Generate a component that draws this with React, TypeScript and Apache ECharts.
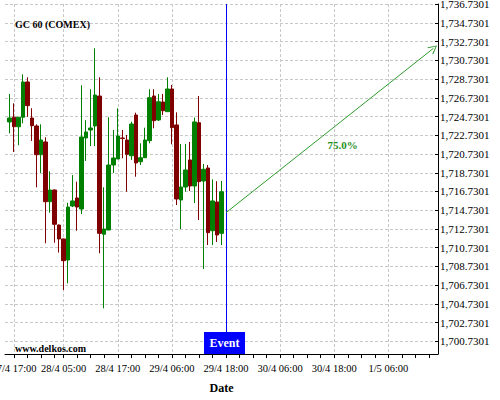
import React, { useEffect, useRef } from "react";
import * as echarts from "echarts";

// ---- data ----
const slotCount = 97;
const firstCandleSlot = 1;
const opens = [1724.16, 1724.66, 1723.65, 1724.66, 1728.43, 1724.58, 1723.73, 1720.66, 1722.02, 1715.64, 1716.89, 1713.15, 1711.66, 1709.41, 1715.18, 1716.04, 1714.86, 1722.45, 1723.30, 1723.73, 1726.93, 1712.16, 1712.62, 1719.56, 1720.20, 1722.45, 1722.23, 1720.55, 1724.90, 1719.91, 1720.34, 1722.16, 1726.93, 1724.37, 1726.29, 1725.26, 1727.68, 1723.84, 1715.82, 1717.21, 1720.10, 1717.32, 1724.08, 1717.85, 1719.24, 1712.54, 1715.61, 1712.26];
const closes = [1724.58, 1723.65, 1724.66, 1728.43, 1725.90, 1723.76, 1720.66, 1722.23, 1715.64, 1716.89, 1713.23, 1711.66, 1709.34, 1715.07, 1715.72, 1715.07, 1722.55, 1723.09, 1723.51, 1727.04, 1712.26, 1712.72, 1719.56, 1720.31, 1722.66, 1722.39, 1720.70, 1723.94, 1719.78, 1720.34, 1722.23, 1726.75, 1724.29, 1726.32, 1725.36, 1727.68, 1723.55, 1715.93, 1717.21, 1719.03, 1717.32, 1724.16, 1717.78, 1719.10, 1712.33, 1715.72, 1712.08, 1716.71];
const lows = [1722.95, 1720.95, 1721.67, 1724.02, 1724.72, 1722.13, 1717.18, 1718.71, 1711.20, 1714.47, 1711.26, 1710.21, 1706.21, 1706.92, 1715.07, 1712.54, 1714.33, 1719.99, 1721.59, 1721.59, 1710.13, 1704.25, 1712.60, 1718.71, 1720.20, 1720.28, 1716.71, 1720.10, 1718.31, 1719.56, 1720.31, 1721.88, 1723.48, 1724.26, 1724.90, 1725.22, 1721.77, 1715.29, 1712.72, 1716.71, 1716.78, 1715.50, 1713.69, 1708.45, 1711.01, 1711.01, 1711.34, 1711.01];
const highs = [1727.15, 1726.15, 1724.70, 1729.25, 1728.93, 1725.62, 1723.91, 1723.91, 1722.52, 1718.89, 1716.95, 1713.20, 1711.70, 1715.53, 1718.49, 1717.78, 1728.08, 1724.34, 1727.65, 1732.03, 1728.93, 1717.18, 1724.66, 1723.30, 1725.62, 1723.30, 1722.77, 1724.19, 1725.15, 1721.88, 1723.55, 1727.65, 1727.65, 1727.15, 1727.15, 1728.93, 1728.11, 1725.19, 1721.81, 1721.81, 1722.02, 1724.62, 1726.93, 1719.67, 1719.56, 1718.03, 1717.82, 1717.85];

const labelSlots = [2, 13, 25, 37, 49, 61, 73, 85];
const labelTexts = ["27/4 17:00", "28/4 05:00", "28/4 17:00", "29/4 06:00", "29/4 18:00", "30/4 06:00", "30/4 18:00", "1/5 06:00"];
const yTickValues = [1700.7301, 1702.7301, 1704.7301, 1706.7301, 1708.7301, 1710.7301, 1712.7301, 1714.7301, 1716.7301, 1718.7301, 1720.7301, 1722.7301, 1724.7301, 1726.7301, 1728.7301, 1730.7301, 1732.7301, 1734.7301, 1736.7301];
const yMin = 1699.37;
const yMax = 1736.76;

const eventSlot = 49;
const forecastFrom = [49, 1714.47];
const forecastTo = [95, 1732.03];
const forecastText = "75.0%";
const titleText = "GC 60 (COMEX)";
const siteText = "www.delkos.com";

const FONT = "'Liberation Serif', 'Times New Roman', serif";
const UP = "#008000";
const DOWN = "#800000";
const CHEVRON = "path://M5,0L10,9L9,9.7L5,1.8L1,9.7L0,9Z";

function fmt(v: number): string {
  const s = v.toFixed(4);
  const [i, d] = s.split(".");
  return i.replace(/\B(?=(\d{3})+(?!\d))/g, ",") + "." + d;
}

export default function App() {
  const ref = useRef<HTMLDivElement>(null);
  useEffect(() => {
    if (!ref.current) return;
    const chart = echarts.init(ref.current, undefined, { renderer: "svg" });

    const categories = Array.from({ length: slotCount }, (_, i) => "s" + i);
    const candleData: any[] = [];
    for (let i = 0; i < firstCandleSlot; i++) candleData.push("-");
    for (let k = 0; k < opens.length; k++) candleData.push([opens[k], closes[k], lows[k], highs[k]]);

    const labelMap: Record<number, string> = {};
    labelSlots.forEach((s, k) => (labelMap[s] = labelTexts[k]));
    const tickSet = new Set<number>();
    labelSlots.forEach((s, k) => {
      const next = k + 1 < labelSlots.length ? labelSlots[k + 1] : slotCount;
      for (let t = s; t < next; t += 3) tickSet.add(t);
    });

    chart.setOption({
      animation: false,
      backgroundColor: "#ffffff",
      title: {
        text: titleText,
        left: 10,
        top: 14,
        textStyle: { fontFamily: FONT, fontSize: 10, fontWeight: "bold", color: "#000" },
      },
      grid: { left: 5, right: 62, top: 4, bottom: 46, containLabel: false, outerBoundsMode: "none" },
      xAxis: {
        type: "category",
        data: categories,
        boundaryGap: false,
        name: "Date",
        nameLocation: "middle",
        nameGap: 28,
        nameTextStyle: { fontFamily: FONT, fontSize: 12, fontWeight: "bold", color: "#000" },
        axisLine: { show: true, lineStyle: { color: "#000", width: 1 } },
        axisTick: {
          show: true,
          length: 4,
          interval: (idx: number) => tickSet.has(idx),
          lineStyle: { color: "#000" },
        },
        axisLabel: {
          interval: (idx: number) => labelMap[idx] !== undefined,
          formatter: (_v: string, idx: number) => labelMap[idx] ?? "",
          fontFamily: FONT,
          fontSize: 10.5,
          color: "#000",
          margin: 9,
          hideOverlap: false,
        },
        splitLine: {
          show: true,
          interval: (idx: number) => labelMap[idx] !== undefined,
          lineStyle: { color: "#c8c8c8", type: [3, 2], width: 1 },
        },
      },
      yAxis: {
        type: "value",
        position: "right",
        min: yMin,
        max: yMax,
        axisLine: { show: true, lineStyle: { color: "#000", width: 1 } },
        axisTick: { show: true, customValues: yTickValues, length: 3, inside: true, lineStyle: { color: "#000" } },
        axisLabel: {
          customValues: yTickValues,
          formatter: (v: number) => fmt(v),
          fontFamily: FONT,
          fontSize: 11,
          color: "#000",
          margin: 2,
        },
        splitLine: { show: true, lineStyle: { color: "#c8c8c8", type: [3, 2], width: 1 } },
      },
      series: [
        {
          type: "candlestick",
          data: candleData,
          barWidth: 4,
          itemStyle: { color: UP, color0: DOWN, borderColor: UP, borderColor0: DOWN, borderWidth: 1 },
          markLine: {
            silent: true,
            animation: false,
            symbol: ["none", "none"],
            symbolSize: 9,
            label: { show: false },
            data: [
              { xAxis: eventSlot, lineStyle: { color: "#0000ff", width: 1, type: "solid" } },
              [
                { coord: forecastFrom, symbol: "none", lineStyle: { color: "#2e9b2e", width: 1, type: "solid" } },
                { coord: forecastTo, symbol: CHEVRON, symbolSize: 9 },
              ],
            ],
          },
        },
      ],
      graphic: [
        {
          type: "text",
          left: 15,
          top: 343,
          z: 100,
          style: { text: siteText, font: `bold 10px ${FONT}`, fill: "#000" },
        },
        {
          type: "rect",
          z: 100,
          shape: { x: 204, y: 332, width: 41, height: 22 },
          style: { fill: "#0000ff" },
        },
        {
          type: "text",
          z: 101,
          x: 224.5,
          y: 343,
          style: { text: "Event", font: `bold 12px ${FONT}`, fill: "#fff", align: "center", verticalAlign: "middle" },
        },
        {
          type: "text",
          z: 100,
          x: 342.5,
          y: 145,
          style: { text: forecastText, font: `bold 11px ${FONT}`, fill: "#1f8f1f", align: "center", verticalAlign: "middle" },
        },
      ],
    });
    return () => chart.dispose();
  }, []);
  return <div ref={ref} style={{ position: "fixed", left: 0, top: 0, width: 500, height: 400 }} />;
}
